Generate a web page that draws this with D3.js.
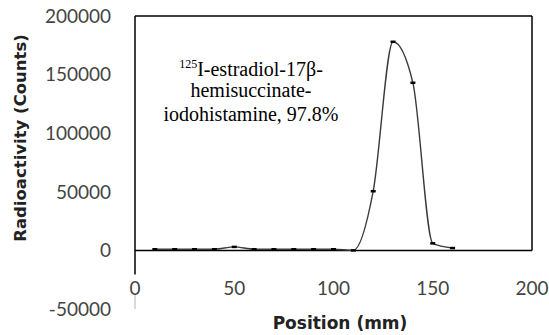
<!DOCTYPE html>
<html>
<head>
<meta charset="utf-8">
<script src="https://cdn.jsdelivr.net/npm/d3@7"></script>
<style>
  body { margin: 0; background: #fff; }
</style>
</head>
<body>
<div id="chart"></div>
<script>
// Data
const positions = [10, 20, 30, 40, 50, 60, 70, 80, 90, 100, 110, 120, 130, 140, 150, 160];
const counts = [1000, 1000, 1000, 1000, 3000, 1000, 1000, 1000, 1000, 1000, 0, 50500, 178000, 143000, 6000, 2000];
const xTicks = [0, 50, 100, 150, 200];
const yTicks = [-50000, 0, 50000, 100000, 150000, 200000];
const labelLines = ["I-estradiol-17\u03b2-", "hemisuccinate-", "iodohistamine, 97.8%"];

const W = 549, H = 335;

const x = d3.scaleLinear().domain([0, 200]).range([135, 532]);
const y = d3.scaleLinear().domain([-50000, 200000]).range([309, 16]);

const svg = d3.select("#chart")
    .append("svg")
    .attr("width", W)
    .attr("height", H);

// Plot frame: top and right edges, x axis at zero
svg.append("line")
    .attr("x1", x(0)).attr("x2", x(200))
    .attr("y1", y(200000)).attr("y2", y(200000))
    .attr("stroke", "#000").attr("stroke-width", 1.5);
svg.append("line")
    .attr("x1", x(200)).attr("x2", x(200))
    .attr("y1", y(200000)).attr("y2", y(0))
    .attr("stroke", "#000").attr("stroke-width", 1.5);
svg.append("line")
    .attr("x1", x(0)).attr("x2", x(200))
    .attr("y1", y(0)).attr("y2", y(0))
    .attr("stroke", "#000").attr("stroke-width", 1.5);

// Y axis line, dark down to the "0" label, faint below it
svg.append("line")
    .attr("x1", x(0)).attr("x2", x(0))
    .attr("y1", y(200000)).attr("y2", y(0) + 24)
    .attr("stroke", "#000").attr("stroke-width", 1.5);
svg.append("line")
    .attr("x1", x(0)).attr("x2", x(0))
    .attr("y1", y(0) + 44).attr("y2", y(-50000))
    .attr("stroke", "#ccc").attr("stroke-width", 1.5);

// Y tick labels
svg.append("g")
    .selectAll("text")
    .data(yTicks)
    .enter().append("text")
    .attr("x", 111)
    .attr("y", d => y(d))
    .attr("dy", "0.36em")
    .attr("text-anchor", "end")
    .style("font-family", "Lato, 'Open Sans', sans-serif")
    .style("font-size", "19px")
    .style("fill", "#444")
    .text(d => d);

// X tick labels
svg.append("g")
    .selectAll("text")
    .data(xTicks)
    .enter().append("text")
    .attr("x", d => x(d))
    .attr("y", 288)
    .attr("dy", "0.36em")
    .attr("text-anchor", "middle")
    .style("font-family", "Lato, 'Open Sans', sans-serif")
    .style("font-size", "19px")
    .style("fill", "#444")
    .text(d => d);

// Axis titles
svg.append("text")
    .attr("x", 340)
    .attr("y", 323)
    .attr("dy", "0.36em")
    .attr("text-anchor", "middle")
    .style("font-family", "'DejaVu Sans', sans-serif")
    .style("font-size", "17px")
    .style("font-weight", "bold")
    .style("fill", "#222")
    .text("Position (mm)");

svg.append("text")
    .attr("transform", "translate(20," + 138 + ") rotate(-90)")
    .attr("dy", "0.36em")
    .attr("text-anchor", "middle")
    .style("font-family", "'DejaVu Sans', sans-serif")
    .style("font-size", "16.5px")
    .style("font-weight", "bold")
    .style("fill", "#222")
    .text("Radioactivity (Counts)");

// Smoothed data line
const line = d3.line()
    .x((d, i) => x(positions[i]))
    .y(d => y(d))
    .curve(d3.curveMonotoneX);

svg.append("path")
    .datum(counts)
    .attr("d", line)
    .attr("fill", "none")
    .attr("stroke", "#3a3a3a")
    .attr("stroke-width", 1.4);

// Dash markers
svg.append("g")
    .selectAll("line")
    .data(counts)
    .enter().append("line")
    .attr("x1", (d, i) => x(positions[i]) - 2.5)
    .attr("x2", (d, i) => x(positions[i]) + 2.5)
    .attr("y1", d => y(d))
    .attr("y2", d => y(d))
    .attr("stroke", "#000")
    .attr("stroke-width", 2.5);

// Annotation, one text per line; first line carries the superscript
labelLines.forEach((t, i) => {
    const txt = svg.append("text")
        .attr("x", 251)
        .attr("y", 73 + i * 24)
        .attr("text-anchor", "middle")
        .style("font-family", "'Liberation Serif', 'Times New Roman', serif")
        .style("font-size", "20px")
        .style("fill", "#000");
    if (i === 0) {
        txt.append("tspan")
            .attr("dy", "-0.4em")
            .style("font-size", "12px")
            .text("125");
        txt.append("tspan")
            .attr("dy", "0.4em")
            .text(t);
    } else {
        txt.text(t);
    }
});
</script>
</body>
</html>
